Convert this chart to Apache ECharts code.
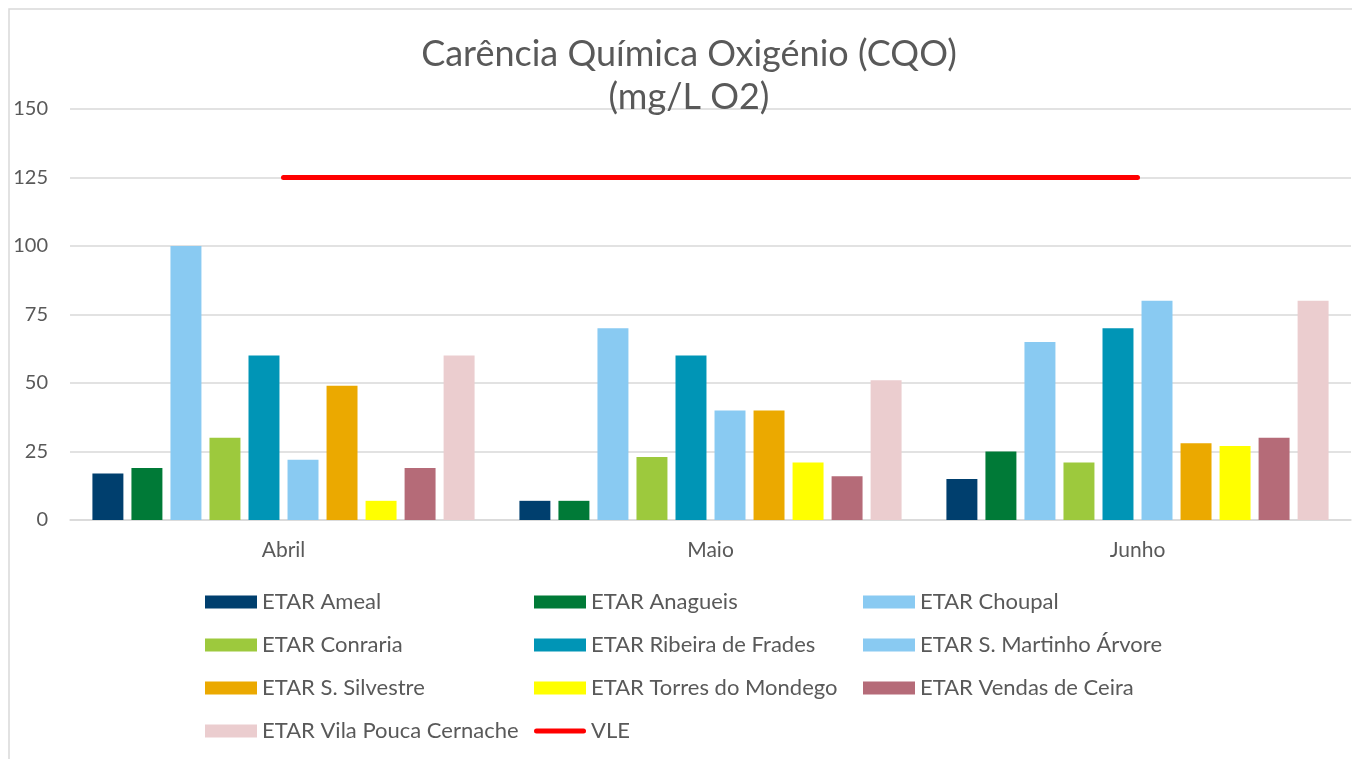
<!DOCTYPE html>
<html>
<head>
<meta charset="utf-8">
<script src="https://cdn.jsdelivr.net/npm/echarts@6/dist/echarts.min.js"></script>
<style>
html,body{margin:0;padding:0;background:#fff;}
#chart{width:1352px;height:759px;}
</style>
</head>
<body>
<div id="chart"></div>
<script>
const categories = ['Abril', 'Maio', 'Junho'];
const seriesNames = [
  'ETAR Ameal', 'ETAR Anagueis', 'ETAR Choupal', 'ETAR Conraria',
  'ETAR Ribeira de Frades', 'ETAR S. Martinho Árvore', 'ETAR S. Silvestre',
  'ETAR Torres do Mondego', 'ETAR Vendas de Ceira', 'ETAR Vila Pouca Cernache'
];
const ameal = [17, 7, 15];
const anagueis = [19, 7, 25];
const choupal = [100, 70, 65];
const conraria = [30, 23, 21];
const ribeira = [60, 60, 70];
const sMartinho = [22, 40, 80];
const sSilvestre = [49, 40, 28];
const torres = [7, 21, 27];
const vendas = [19, 16, 30];
const vilaPouca = [60, 51, 80];
const vle = [125, 125, 125];
const yTicks = [0, 25, 50, 75, 100, 125, 150];

const seriesValues = [ameal, anagueis, choupal, conraria, ribeira, sMartinho, sSilvestre, torres, vendas, vilaPouca];
const colors = ['#003F6E', '#007A37', '#89CAF2', '#9DC93D', '#0095B6', '#89CAF2', '#EBA900', '#FFFF00', '#B56B78', '#EBCDCF'];

const font = 'Lato, "Open Sans", sans-serif';
const textColor = '#595959';

const barSeries = seriesNames.map((name, i) => ({
  name: name,
  type: 'bar',
  data: seriesValues[i],
  itemStyle: { color: colors[i] },
  barGap: '26%',
  barCategoryGap: '10.5%'
}));

const legendCommon = {
  orient: 'vertical',
  itemWidth: 52,
  itemHeight: 13,
  itemGap: 21,
  padding: 0,
  icon: 'rect',
  textStyle: { color: textColor, fontSize: 22, fontFamily: font, lineHeight: 22 },
  top: 591,
  selectedMode: false
};

const chart = echarts.init(document.getElementById('chart'));
chart.setOption({
  animation: false,
  backgroundColor: '#fff',
  title: {
    text: 'Carência Química Oxigénio (CQO)\n(mg/L O2)',
    left: 689,
    textAlign: 'center',
    top: 33,
    padding: 0,
    textStyle: { color: textColor, fontSize: 36, fontWeight: 'normal', fontFamily: font, lineHeight: 43 }
  },
  graphic: [{
    type: 'rect',
    shape: { x: 9, y: 9, width: 1400, height: 800 },
    style: { fill: 'none', stroke: '#d9d9d9', lineWidth: 1.5 },
    silent: true
  }],
  legend: [
    Object.assign({}, legendCommon, { left: 205, data: ['ETAR Ameal', 'ETAR Conraria', 'ETAR S. Silvestre', 'ETAR Vila Pouca Cernache'] }),
    Object.assign({}, legendCommon, { left: 534, data: ['ETAR Anagueis', 'ETAR Ribeira de Frades', 'ETAR Torres do Mondego', {
      name: 'VLE',
      icon: 'path://M2.5,0 L49.5,0 A2.5,2.5 0 0 1 49.5,5 L2.5,5 A2.5,2.5 0 0 1 2.5,0 Z',
      itemStyle: { color: '#FF0000' }
    }] }),
    Object.assign({}, legendCommon, { left: 863, data: ['ETAR Choupal', 'ETAR S. Martinho Árvore', 'ETAR Vendas de Ceira'] })
  ],
  grid: { left: 70, right: 1, top: 109, bottom: 239, containLabel: false },
  xAxis: {
    type: 'category',
    data: categories,
    axisTick: { show: false },
    axisLine: { lineStyle: { color: '#d9d9d9', width: 1.5 } },
    axisLabel: { color: textColor, fontSize: 21, fontFamily: font, margin: 20 }
  },
  yAxis: {
    type: 'value',
    min: yTicks[0],
    max: yTicks[yTicks.length - 1],
    interval: 25,
    axisLine: { show: false },
    axisTick: { show: false },
    splitLine: { lineStyle: { color: '#d9d9d9', width: 1.5 } },
    axisLabel: { color: textColor, fontSize: 20, fontFamily: font, margin: 22 }
  },
  series: barSeries.concat([{
    name: 'VLE',
    type: 'line',
    data: vle,
    symbol: 'none',
    z: 5,
    itemStyle: { color: '#FF0000' },
    lineStyle: { color: '#FF0000', width: 5, cap: 'round' }
  }])
});
</script>
</body>
</html>
